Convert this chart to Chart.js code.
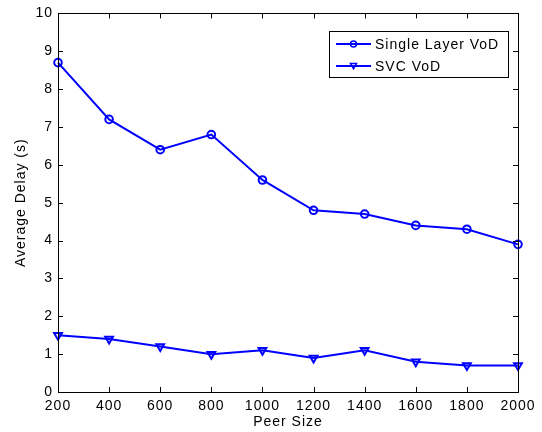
<!DOCTYPE html>
<html>
<head>
<meta charset="utf-8">
<script src="https://cdn.jsdelivr.net/npm/chart.js@4/dist/chart.umd.min.js"></script>
<style>
  html, body { margin: 0; padding: 0; background: #fff; }
  #wrap { width: 542px; height: 432px; }
</style>
</head>
<body>
<div id="wrap"><canvas id="js-chart-delay"></canvas></div>
<script>
// Peer size on the x axis, average delay in seconds on the y axis
const peerSizes = [200, 400, 600, 800, 1000, 1200, 1400, 1600, 1800, 2000];
const singleLayerDelay = [8.7, 7.2, 6.4, 6.8, 5.6, 4.8, 4.7, 4.4, 4.3, 3.9];
const svcDelay = [1.5, 1.4, 1.2, 1.0, 1.1, 0.9, 1.1, 0.8, 0.7, 0.7];
const seriesNames = ['Single Layer VoD', 'SVC VoD'];
const xTicks = { min: 200, max: 2000, step: 200 };
const yTicks = { min: 0, max: 10, step: 1 };

const BLUE = '#0000ff';
const FONT = "'Liberation Sans', Arial, sans-serif";

Chart.defaults.font.family = FONT;
Chart.defaults.font.size = 14;
Chart.defaults.color = '#000';
Chart.defaults.animation = false;

// Slightly wider lettering, set before the scales measure their labels
const wideText = {
  id: 'wideText',
  beforeLayout(chart) { chart.ctx.letterSpacing = '1px'; }
};

// Box around the axes with short inward ticks on all four sides
const boxFrame = {
  id: 'boxFrame',
  afterDatasetsDraw(chart) {
    const { ctx, chartArea: a, scales } = chart;
    const len = 5;
    ctx.save();
    ctx.strokeStyle = '#000';
    ctx.lineWidth = 1;
    ctx.beginPath();
    scales.x.ticks.forEach(t => {
      const px = Math.round(scales.x.getPixelForValue(t.value)) + 0.5;
      ctx.moveTo(px, a.bottom); ctx.lineTo(px, a.bottom - len);
      ctx.moveTo(px, a.top); ctx.lineTo(px, a.top + len);
    });
    scales.y.ticks.forEach(t => {
      const py = Math.round(scales.y.getPixelForValue(t.value)) + 0.5;
      ctx.moveTo(a.left, py); ctx.lineTo(a.left + len, py);
      ctx.moveTo(a.right, py); ctx.lineTo(a.right - len, py);
    });
    ctx.stroke();
    ctx.strokeRect(Math.round(a.left) + 0.5, Math.round(a.top) + 0.5,
      Math.round(a.right - a.left), Math.round(a.bottom - a.top));
    ctx.restore();
  }
};

function drawMarker(ctx, style, x, y, r) {
  ctx.beginPath();
  if (style === 'circle') {
    ctx.arc(x, y, r, 0, Math.PI * 2);
  } else {
    // downward triangle
    ctx.moveTo(x - r, y - r * 0.8);
    ctx.lineTo(x + r, y - r * 0.8);
    ctx.lineTo(x, y + r * 0.9);
    ctx.closePath();
  }
  ctx.stroke();
}

// Legend box in the upper right corner of the plot
const boxLegend = {
  id: 'boxLegend',
  afterDraw(chart) {
    const { ctx } = chart;
    const box = { x: 329.5, y: 31.5, w: 179, h: 46 };
    ctx.save();
    ctx.fillStyle = '#fff';
    ctx.fillRect(box.x, box.y, box.w, box.h);
    ctx.strokeStyle = '#000';
    ctx.lineWidth = 1;
    ctx.strokeRect(box.x, box.y, box.w, box.h);
    ctx.font = '14px ' + FONT;
    ctx.textBaseline = 'middle';
    chart.data.datasets.forEach((ds, i) => {
      const y = 44 + i * 22;
      ctx.strokeStyle = BLUE;
      ctx.lineWidth = 2;
      ctx.beginPath();
      ctx.moveTo(336, y); ctx.lineTo(371, y);
      ctx.stroke();
      ctx.lineWidth = 1.5;
      drawMarker(ctx, ds.pointStyle, 353.5, y, 3);
      ctx.fillStyle = '#000';
      ctx.fillText(ds.label, 375, y + 1);
    });
    ctx.restore();
  }
};

const toPoints = vals => vals.map((v, i) => ({ x: peerSizes[i], y: v }));

new Chart(document.getElementById('js-chart-delay'), {
  type: 'line',
  data: {
    datasets: [
      {
        label: seriesNames[0],
        data: toPoints(singleLayerDelay),
        borderColor: BLUE,
        borderWidth: 2,
        pointStyle: 'circle',
        pointRadius: 3.8,
        pointBorderWidth: 2,
        pointBorderColor: BLUE,
        pointBackgroundColor: 'rgba(0,0,0,0)',
        clip: false
      },
      {
        label: seriesNames[1],
        data: toPoints(svcDelay),
        borderColor: BLUE,
        borderWidth: 2,
        pointStyle: 'triangle',
        rotation: 180,
        pointRadius: 4.5,
        pointBorderWidth: 2,
        pointBorderColor: BLUE,
        pointBackgroundColor: 'rgba(0,0,0,0)',
        clip: false
      }
    ]
  },
  options: {
    responsive: true,
    maintainAspectRatio: false,
    layout: { padding: { top: 10, right: 24, left: 0, bottom: 0 } },
    plugins: {
      legend: { display: false },
      tooltip: { enabled: false }
    },
    scales: {
      x: {
        type: 'linear',
        min: xTicks.min,
        max: xTicks.max,
        grid: { display: false, drawTicks: false },
        border: { display: false },
        ticks: {
          stepSize: xTicks.step, padding: 6, maxRotation: 0, autoSkip: false,
          callback: v => String(v)
        },
        title: { display: true, text: 'Peer Size', padding: { top: 0, bottom: 1 } },
        afterFit(scale) { scale.height = 40; }
      },
      y: {
        min: yTicks.min,
        max: yTicks.max,
        grid: { display: false, drawTicks: false },
        border: { display: false },
        ticks: { stepSize: yTicks.step, padding: 5 },
        title: { display: true, text: 'Average Delay (s)', padding: { top: 13, bottom: 12 } },
        afterFit(scale) { scale.width = 58; }
      }
    }
  },
  plugins: [wideText, boxFrame, boxLegend]
});
</script>
</body>
</html>
